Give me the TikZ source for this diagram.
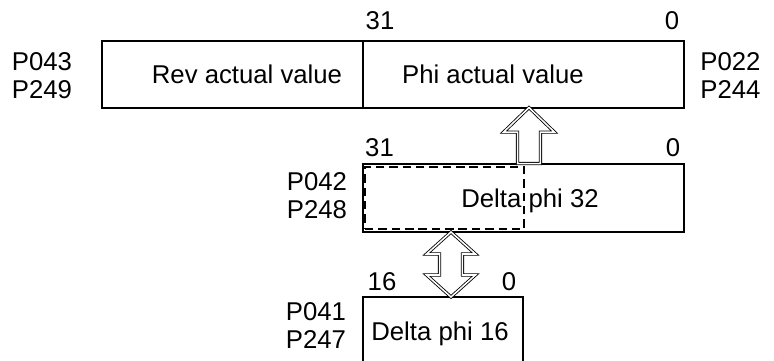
\documentclass[tikz,border=0pt]{standalone}
\usepackage{fontspec}
\setmainfont{Liberation Sans}
\usetikzlibrary{shapes.arrows}
\begin{document}
\begin{tikzpicture}[
    font=\fontsize{18.3}{19.9}\selectfont,
    field/.style={rectangle, draw, line width=1.1pt, inner sep=0pt},
    bits/.style={inner sep=0pt, anchor=base},
    pnum/.style={align=center, inner sep=0pt},
    uparrow/.style={single arrow, draw, line width=0.6pt, double, double distance=1.1pt,
                    inner sep=0.275cm, single arrow head extend=0.35cm,
                    single arrow tip angle=92, minimum height=1.4cm, rotate=90},
    bothways/.style={double arrow, draw, line width=0.6pt, double, double distance=1.1pt,
                     inner sep=0.275cm, double arrow head extend=0.325cm,
                     double arrow tip angle=96, minimum height=1.625cm, rotate=90}
]
    \clip (0,0) rectangle (19.35,9);

    \node[field, minimum width=6.525cm, minimum height=1.675cm] (rev) at (5.8125, 7.1375) {};
    \node[field, minimum width=8.025cm, minimum height=1.675cm] (phi) at (13.0875, 7.1375) {};
    \node[bits] (revtxt) at (6.175, 6.917) {Rev actual value};
    \node[bits] (phitxt) at (12.325, 6.917) {Phi actual value};
    \node[bits] (phimsb) at (9.5, 8.25) {31};
    \node[bits] (philsb) at (16.8, 8.25) {0};
    \node[pnum] (revpar) at (1.05, 7.1) {P043\\P249};
    \node[pnum] (phipar) at (18.2625, 7.1) {P022\\P244};

    \node[field, minimum width=8.025cm, minimum height=1.7cm] (delta32) at (13.0875, 4.05) {};
    \node[field, dash pattern=on 6pt off 3.5pt, minimum width=3.975cm,
          minimum height=1.55cm] (low32) at (11.1125, 4.05) {};
    \node[bits] (d32txt) at (13.25, 3.825) {Delta phi 32};
    \node[bits] (d32msb) at (9.4875, 5.1) {31};
    \node[bits] (d32lsb) at (16.825, 5.1) {0};
    \node[pnum] (d32par) at (7.925, 4.1) {P042\\P248};

    \node[field, minimum width=4cm, minimum height=1.9cm] (delta16) at (11.075, 0.625) {};
    \node[bits] (d16txt) at (11.0, 0.483) {Delta phi 16};
    \node[bits] (d16msb) at (9.55, 1.75) {16};
    \node[bits] (d16lsb) at (12.725, 1.75) {0};
    \node[pnum] (d16par) at (7.9, 0.85) {P041\\P247};

    \node[uparrow, anchor=tail] (carry) at (13.225, 4.9) {};
    \node[bothways] (swap) at (11.275, 2.3875) {};
\end{tikzpicture}
\end{document}
